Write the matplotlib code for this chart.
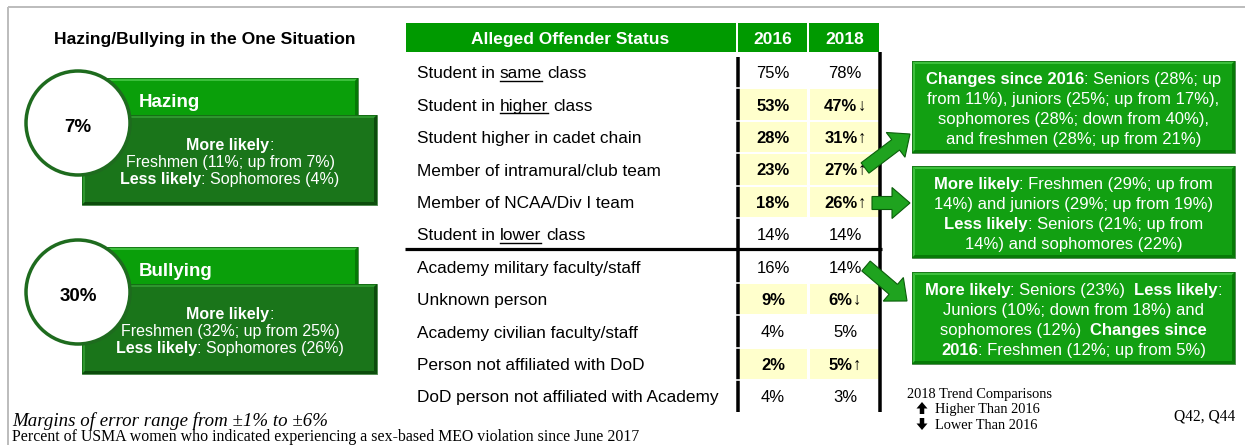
import matplotlib
matplotlib.use("Agg")
import matplotlib.pyplot as plt
from matplotlib.patches import Rectangle, Circle, FancyArrow, Polygon

# ---------------- data ----------------
offender_labels = [
    "Student in same class", "Student in higher class", "Student higher in cadet chain",
    "Member of intramural/club team", "Member of NCAA/Div I team", "Student in lower class",
    "Academy military faculty/staff", "Unknown person", "Academy civilian faculty/staff",
    "Person not affiliated with DoD", "DoD person not affiliated with Academy",
]
underlined_words = ["same", "higher", "", "", "", "lower", "", "", "", "", ""]
pct_2016 = [75, 53, 28, 23, 18, 14, 16, 9, 4, 2, 4]
pct_2018 = [78, 47, 31, 27, 26, 14, 14, 6, 5, 5, 3]
trend_2018 = ["", "down", "up", "up", "up", "", "", "down", "", "up", ""]
student_rows = 6
table_columns = ["Alleged Offender Status", "2016", "2018"]

situations = ["Hazing", "Bullying"]
situation_pct = [7, 30]
situation_notes = [
    [[("More likely", True), (":", False)],
     [("Freshmen (11%; up from 7%)", False)],
     [("Less likely", True), (": Sophomores (4%)", False)]],
    [[("More likely", True), (":", False)],
     [("Freshmen (32%; up from 25%)", False)],
     [("Less likely", True), (": Sophomores (26%)", False)]],
]
panel_title = "Hazing/Bullying in the One Situation"

callout_notes = [
    [[("Changes since 2016", True), (": Seniors (28%; up", False)],
     [("from 11%), juniors (25%; up from 17%),", False)],
     [("sophomores (28%; down from 40%),", False)],
     [("and freshmen (28%; up from 21%)", False)]],
    [[("More likely", True), (": Freshmen (29%; up from", False)],
     [("14%) and juniors (29%; up from 19%)", False)],
     [("Less likely", True), (": Seniors (21%; up from", False)],
     [("14%) and sophomores (22%)", False)]],
    [[("More likely", True), (": Seniors (23%)  ", False), ("Less likely", True), (":", False)],
     [("Juniors (10%; down from 18%) and", False)],
     [("sophomores (12%)  ", False), ("Changes since", True)],
     [("2016", True), (": Freshmen (12%; up from 5%)", False)]],
]
footer_italic = "Margins of error range from \u00b11% to \u00b16%"
footer_note = "Percent of USMA women who indicated experiencing a sex-based MEO violation since June 2017"
legend_title = "2018 Trend Comparisons"
legend_items = ["Higher Than 2016", "Lower Than 2016"]
question_ref = "Q42, Q44"

# ---------------- styles ----------------
SANS = ["Liberation Sans", "DejaVu Sans"]
SERIF = ["Liberation Serif", "DejaVu Serif"]
PX = 100 / 72.0
HEADER_GREEN = "#009A00"
LIGHT_GREEN = "#0A9F0A"
DARK_GREEN = "#1A751A"
BOX_GREEN = "#12A012"
ARROW_GREEN = "#1FA31F"
EDGE_GREEN = "#0B5E0B"
YELLOW = "#FFFFCC"

fig = plt.figure(figsize=(12.45, 4.45), dpi=100)
ax = fig.add_axes([0, 0, 1, 1])
ax.set_xlim(0, 1245)
ax.set_ylim(445, 0)
ax.axis("off")
renderer = fig.canvas.get_renderer()

_cache = {}


def _raw_w(s, size, bold, family, style):
    key = (s, size, bold, tuple(family), style)
    if key not in _cache:
        t = ax.text(0, 0, s, fontsize=size, fontweight="bold" if bold else "normal",
                    family=family, fontstyle=style)
        _cache[key] = t.get_window_extent(renderer).width
        t.remove()
    return _cache[key]


def measure(s, size, bold=False, family=SANS, style="normal"):
    if s == "":
        return 0.0
    return _raw_w("I" + s + "I", size, bold, family, style) - _raw_w("II", size, bold, family, style)


def draw_runs(x, yc, runs, size, color="black", family=SANS, ha="center", style="normal"):
    base = yc + 0.36 * size * PX
    widths = [measure(t, size, b, family, style) for t, b in runs]
    total = sum(widths)
    if ha == "center":
        x0 = x - total / 2
    elif ha == "right":
        x0 = x - total
    else:
        x0 = x
    texts = []
    for (t, b), w in zip(runs, widths):
        lead = len(t) - len(t.lstrip(" "))
        core = t.strip(" ")
        xs = x0 + (measure(" " * lead, size, b, family, style) if lead else 0)
        tt = None
        if core:
            tt = ax.text(xs, base, core, fontsize=size, fontweight="bold" if b else "normal",
                         family=family, color=color, ha="left", va="baseline", fontstyle=style,
                         zorder=6)
        texts.append(tt)
        x0 += w
    return base, texts


def bevel_box(x, y, w, h, face, light, dark, b=3, z=2):
    ax.add_patch(Rectangle((x, y), w, h, facecolor=face, edgecolor="none", zorder=z))
    ax.add_patch(Polygon([(x, y), (x + w, y), (x + w - b, y + b), (x + b, y + b)],
                         closed=True, facecolor=light, edgecolor="none", zorder=z))
    ax.add_patch(Polygon([(x, y), (x + b, y + b), (x + b, y + h - b), (x, y + h)],
                         closed=True, facecolor=light, edgecolor="none", zorder=z))
    ax.add_patch(Polygon([(x, y + h), (x + b, y + h - b), (x + w - b, y + h - b), (x + w, y + h)],
                         closed=True, facecolor=dark, edgecolor="none", zorder=z))
    ax.add_patch(Polygon([(x + w, y), (x + w, y + h), (x + w - b, y + h - b), (x + w - b, y + b)],
                         closed=True, facecolor=dark, edgecolor="none", zorder=z))
    ax.add_patch(Rectangle((x, y), w, h, facecolor="none", edgecolor=EDGE_GREEN, lw=0.5, zorder=z))


# ---------------- frame ----------------
ax.plot([8, 1245], [7, 7], color="#BDBDBD", lw=2 / PX, solid_capstyle="butt")
ax.plot([8, 8], [7, 445], color="#BDBDBD", lw=2 / PX, solid_capstyle="butt")

# ---------------- left panel ----------------
draw_runs(205, 38, [(panel_title, True)], 12.6)
block_tops = [78, 247]
for k, name in enumerate(situations):
    yb = block_tops[k]
    bevel_box(107, yb, 251, 40, LIGHT_GREEN, "#3CC03C", "#067806", z=2)
    bevel_box(82, yb + 37, 295, 90, DARK_GREEN, "#2E962E", "#0C4C0C", z=2)
    ax.add_patch(Circle((78, yb + 45), 52, facecolor="white", edgecolor="#1E6B1E", lw=3.5 / PX, zorder=3))
    draw_runs(139, yb + 22, [(name, True)], 13.5, color="white", ha="left")
    draw_runs(78, yb + 47, [(f"{situation_pct[k]}%", True)], 13.5)
    for j, line in enumerate(situation_notes[k]):
        draw_runs(230, yb + 66 + 17 * j, line, 11.5, color="white")

# ---------------- table ----------------
hdr_top, hdr_h = 23, 29
col_edges = [406, 737, 808, 880]
col_centers = [570, 773, 845]
for c in range(3):
    ax.add_patch(Rectangle((col_edges[c] + (1 if c else 0), hdr_top),
                           col_edges[c + 1] - col_edges[c] - (2 if c else 1), hdr_h,
                           facecolor=HEADER_GREEN, edgecolor="none"))
    draw_runs(col_centers[c], hdr_top + 15, [(table_columns[c], True)], 12.5, color="white")

LBL = 12.4
VAL = 12.0
row_top, row_h = 56, 32.4
n_rows = len(offender_labels)
for i, label in enumerate(offender_labels):
    yc = row_top + (i + 0.5) * row_h
    y0 = row_top + i * row_h
    sig = trend_2018[i] != ""
    if sig:
        ax.add_patch(Rectangle((739, y0 + 1), 68, row_h - 2, facecolor=YELLOW, edgecolor="none"))
        ax.add_patch(Rectangle((809.5, y0 + 1), 69, row_h - 2, facecolor=YELLOW, edgecolor="none"))
    w = underlined_words[i]
    if w:
        pre, post = label.split(w, 1)
        runs = [(pre, False), (w, False), (post, False)]
    else:
        runs = [(label, False)]
    base, texts = draw_runs(417, yc, runs, LBL, ha="left")
    if w:
        bb = texts[1].get_window_extent(renderer)
        ax.plot([bb.x0, bb.x1], [base + 2.5, base + 2.5], color="black", lw=1.4 / PX)
    draw_runs(col_centers[1], yc, [(f"{pct_2016[i]}%", sig)], VAL)
    arrow = {"up": "\u2191", "down": "\u2193"}.get(trend_2018[i], "")
    runs18 = [(f"{pct_2018[i]}%", sig)] + ([(arrow, False)] if arrow else [])
    draw_runs(col_centers[2], yc, runs18, VAL)

table_bottom = row_top + n_rows * row_h
ax.plot([738, 738], [57, table_bottom], color="black", lw=3.5 / PX, solid_capstyle="butt")
for i in range(1, n_rows):
    if i == student_rows:
        continue
    yy = row_top + i * row_h
    ax.plot([735, 878], [yy, yy], color="white", lw=1.6 / PX)
ax.plot([808.5, 808.5], [56, table_bottom], color="white", lw=1.6 / PX)
ax.plot([880, 880], [52, table_bottom], color="black", lw=3.5 / PX, solid_capstyle="butt")
ysplit = row_top + student_rows * row_h - 1.5
ax.plot([405, 881.5], [ysplit, ysplit], color="black", lw=3.2 / PX, solid_capstyle="butt")

# ---------------- callouts ----------------
box_tops = [61, 166, 272]
for k, lines in enumerate(callout_notes):
    yb = box_tops[k]
    bevel_box(912, yb, 323, 92, BOX_GREEN, "#3DC03D", "#077A07", z=2)
    for j, line in enumerate(lines):
        draw_runs(1073.5, yb + 17 + 20 * j, line, 12.0, color="white")

arrow_specs = [((865, 168), (45, -34)), ((872, 203), (38, 0)), ((866, 266), (41, 35))]
for (x0, y0), (dx, dy) in arrow_specs:
    ax.add_patch(FancyArrow(x0, y0, dx, dy, width=13, head_width=31, head_length=18,
                            length_includes_head=True, facecolor=ARROW_GREEN,
                            edgecolor=EDGE_GREEN, lw=0.8, zorder=5))

# ---------------- legend & footers ----------------
draw_runs(907, 393, [(legend_title, False)], 10.4, family=SERIF, ha="left")
ax.add_patch(FancyArrow(922, 414, 0, -12, width=4.5, head_width=11, head_length=6.5,
                        length_includes_head=True, color="black", lw=0))
ax.add_patch(FancyArrow(922, 418, 0, 12, width=4.5, head_width=11, head_length=6.5,
                        length_includes_head=True, color="black", lw=0))
draw_runs(935, 408, [(legend_items[0], False)], 10.4, family=SERIF, ha="left")
draw_runs(935, 424, [(legend_items[1], False)], 10.4, family=SERIF, ha="left")
draw_runs(1235, 415, [(question_ref, False)], 11.2, family=SERIF, ha="right")

draw_runs(12, 419, [(footer_italic, False)], 13.6, family=SERIF, ha="left", style="italic")
draw_runs(12, 435, [(footer_note, False)], 11.4, family=SERIF, ha="left")

fig.savefig("out.png", dpi=100)
